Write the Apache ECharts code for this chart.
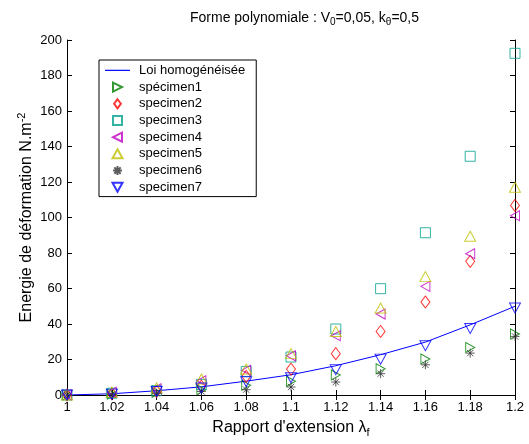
<!DOCTYPE html>
<html><head><meta charset="utf-8">
<script src="https://cdn.jsdelivr.net/npm/echarts@6/dist/echarts.min.js"></script>
<style>html,body{margin:0;padding:0;background:#fff}#c{width:529px;height:444px}</style>
</head><body><div id="c"></div>
<script>
const lambdas = [1, 1.02, 1.04, 1.06, 1.08, 1.1, 1.12, 1.14, 1.16, 1.18, 1.2];
const loiHomog = [0, 0.7, 2.4, 4.6, 7.8, 11.4, 16.5, 22.7, 29.8, 39.5, 50];
const specimen1 = [0, 0.5, 1.5, 3, 5.5, 7.7, 11.3, 14.8, 20.3, 26.8, 34.4];
const specimen2 = [0, 0.7, 2, 5, 10.5, 14.6, 23.3, 35.8, 52.4, 75.3, 106.8];
const specimen3 = [0, 1, 2.5, 6, 13.3, 21.4, 37.2, 59.9, 91.4, 134.5, 192.5];
const specimen4 = [0, 1.5, 3.5, 8, 13.9, 22.1, 33.4, 45.6, 61.2, 79.6, 101];
const specimen5 = [0, 1.5, 4, 9, 14.6, 23.3, 35.8, 49, 66.7, 89.4, 117];
const specimen6 = [0, 0.3, 1, 2, 3, 4.5, 7.3, 12, 17, 23.6, 33];
const specimen7 = [0, 0.5, 2, 4, 7.5, 9.7, 14.3, 20.2, 27.8, 37.5, 49];
const legendNames = ['Loi homogénéisée', 'spécimen1', 'specimen2', 'specimen3', 'specimen4', 'specimen5', 'specimen6', 'specimen7'];

const pts = arr => lambdas.map((x, i) => [x, arr[i]]);
const FONT = 'Liberation Sans';
const hollow = c => ({color: 'rgba(0,0,0,0)', borderColor: c, borderWidth: 1});
const TRI_R = 'path://M0,0 L10,5 L0,10 Z';
const TRI_L = 'path://M10,0 L0,5 L10,10 Z';
const TRI_U = 'path://M5,0 L10,9 L0,9 Z';
const TRI_D = 'path://M0,0 L10,0 L5,9 Z';
const DIAM = 'path://M6,0 L12,8 L6,16 L0,8 Z';
const SQR = 'path://M0,0 L10,0 L10,10 L0,10 Z';
const STAR = 'path://M5,0 L5,10 M0,5 L10,5 M1.5,1.5 L8.5,8.5 M8.5,1.5 L1.5,8.5';
const LINEICON = 'path://M0,0 L25,0 L25,1.2 L0,1.2 Z';

function sc(name, data, symbol, size, color) {
  return {name, type: 'scatter', data: pts(data), symbol, symbolSize: size,
    symbolKeepAspect: false, itemStyle: hollow(color), z: 3};
}

const chart = echarts.init(document.getElementById('c'), null, {renderer: 'canvas'});
const axisCommon = {
  axisLine: {lineStyle: {color: '#000', width: 1}},
  axisTick: {inside: true, length: 5, lineStyle: {color: '#000'}},
  splitLine: {show: false},
  axisLabel: {color: '#000', fontFamily: FONT, fontSize: 13}
};
chart.setOption({
  animation: false,
  backgroundColor: '#fff',
  textStyle: {fontFamily: FONT},
  title: {
    text: '{t|Forme polynomiale : V}{s|0}{t|=0,05, k}{s|θ}{t|=0,5}',
    left: 185, top: 4,
    textStyle: {rich: {
      t: {fontFamily: FONT, fontSize: 14, fontWeight: 'normal', color: '#000', lineHeight: 18},
      s: {fontFamily: FONT, fontSize: 10, fontWeight: 'normal', color: '#000', padding: [9, 0, 0, 0], lineHeight: 18}
    }}
  },
  grid: {left: 67, right: 14, top: 40, bottom: 49},
  legend: {
    orient: 'vertical', left: 99, top: 60,
    backgroundColor: '#fff', borderColor: '#000', borderWidth: 1,
    padding: [2, 11, 1, 6], itemGap: 0, itemWidth: 25, itemHeight: 9,
    textStyle: {fontFamily: FONT, fontSize: 13, color: '#000', lineHeight: 16.7, padding: [0, 0, 0, 4]},
    data: legendNames.map((n, i) => i === 0 ? {name: n, icon: LINEICON} : {name: n})
  },
  xAxis: [{
    type: 'value', min: 1, max: 1.2, interval: 0.02, ...axisCommon,
    axisLabel: {...axisCommon.axisLabel, margin: 6,
      formatter: v => String(+v.toFixed(2))},
    name: '{a|Rapport d\'extension λ}{s|f}', nameLocation: 'middle', nameGap: 23,
    nameMoveOverlap: false,
    nameTextStyle: {rich: {
      a: {fontFamily: FONT, fontSize: 16, color: '#000', lineHeight: 20},
      s: {fontFamily: FONT, fontSize: 11, color: '#000', padding: [10, 0, 0, 0], lineHeight: 20}
    }}
  }, {
    type: 'value', min: 1, max: 1.2, interval: 0.02, position: 'top', ...axisCommon,
    axisLabel: {show: false}
  }],
  yAxis: [{
    type: 'value', min: 0, max: 200, interval: 20, ...axisCommon,
    axisLabel: {...axisCommon.axisLabel, margin: 5},
    name: '{a|Energie de déformation N.m}{s|-2}', nameLocation: 'middle', nameGap: 30,
    nameMoveOverlap: false,
    nameTextStyle: {rich: {
      a: {fontFamily: FONT, fontSize: 16, color: '#000', lineHeight: 20},
      s: {fontFamily: FONT, fontSize: 11, color: '#000', padding: [0, 0, 10, 0], lineHeight: 20}
    }}
  }, {
    type: 'value', min: 0, max: 200, interval: 20, position: 'right', ...axisCommon,
    axisLabel: {show: false}
  }],
  series: [
    {name: 'Loi homogénéisée', type: 'line', data: pts(loiHomog), symbol: 'none',
      lineStyle: {color: '#0000ff', width: 1}, itemStyle: {color: '#0000ff'}, z: 2},
    sc('spécimen1', specimen1, TRI_R, [9, 10], '#008000'),
    sc('specimen2', specimen2, DIAM, [9, 12], '#ff0000'),
    sc('specimen3', specimen3, SQR, 10, '#00a08c'),
    sc('specimen4', specimen4, TRI_L, [9, 10], '#bf00bf'),
    sc('specimen5', specimen5, TRI_U, [11, 10], '#bfbf00'),
    sc('specimen6', specimen6, STAR, 9, '#333333'),
    sc('specimen7', specimen7, TRI_D, [11, 10], '#0000ff')
  ]
});
</script></body></html>
